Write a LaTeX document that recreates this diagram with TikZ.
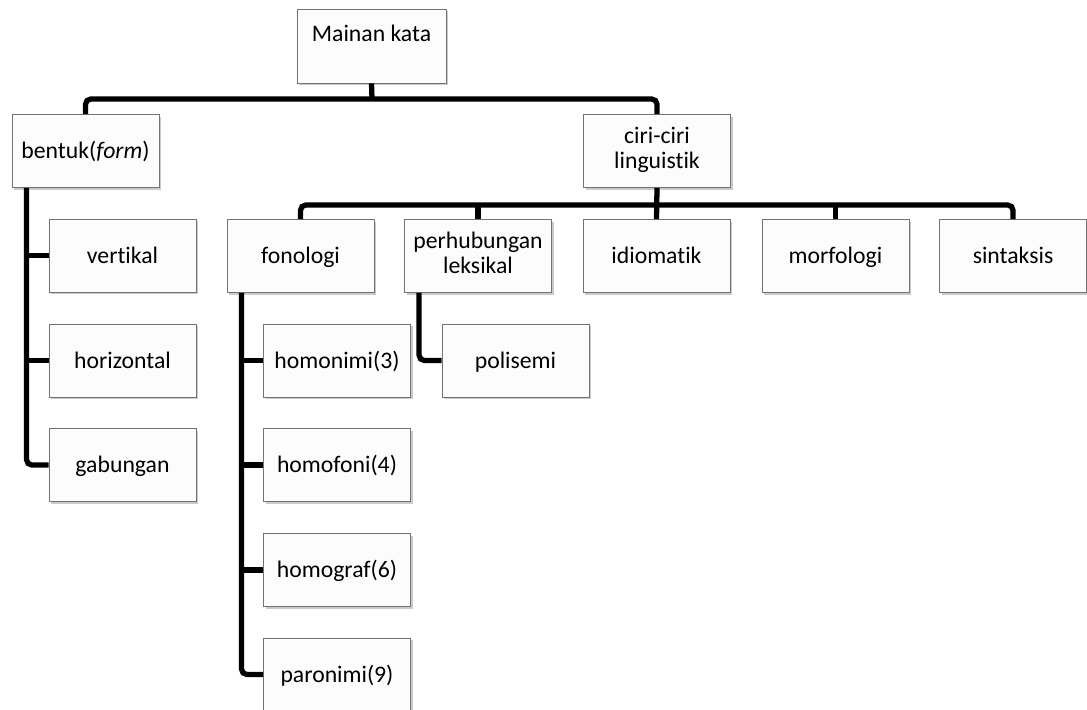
\documentclass[tikz,border=0pt]{standalone}
\usepackage{fontspec}
\setmainfont{Carlito}[Ligatures=NoCommon]
\usetikzlibrary{positioning,calc,shadows}
\newcommand{\boxstrut}{\rule[-4pt]{0pt}{17pt}}
\tikzset{
  % --- boxes -----------------------------------------------------------
  box/.style   ={draw=black!55, line width=0.5pt, fill=black!1, align=center,
                 minimum width=2.94cm, minimum height=1.46cm, inner sep=2pt,
                 font=\fontsize{13.5}{14.2}\selectfont, text=black,
                 execute at begin node=\boxstrut, execute at end node=\boxstrut,
                 drop shadow={shadow xshift=1.3pt, shadow yshift=-1.3pt,
                              opacity=0.35, fill=black!60}},
  topbox/.style={box, minimum width=2.98cm, minimum height=1.48cm,
                 text height=12.5pt, text depth=0.62cm},   % text sits at the top
  % --- connectors ------------------------------------------------------
  conn/.style  ={line width=3pt, draw=black, rounded corners=3pt},
}

\begin{document}
\begin{tikzpicture}[x=0.02cm, y=-0.02cm]
  \useasboundingbox (0,0) rectangle (1087,709);

  % ============================= root =============================
  \node[topbox] (main)   at (371.5,46) {Mainan kata};

  % ============================= level 1 =============================
  \node[box] (bentuk) at (85.5,151) {bentuk(\textit{form})};
  \node[box] (ciri)   at (657,151)  {ciri-ciri\\linguistik};

  % ----- bentuk: children -----
  \node[box] (vert) at (122.5,255.5) {vertikal};
  \node[box] (hori) at (122.5,360.5) {horizontal};
  \node[box] (gab)  at (122.5,465)   {gabungan};

  % ============================= level 2 (ciri-ciri) =============================
  \node[box] (fono)  at (300.5,256) {fonologi};
  \node[box] (perh)  at (478,256)   {perhubungan\\leksikal};
  \node[box] (idiom) at (656.5,256) {idiomatik};
  \node[box] (morf)  at (835.5,256) {morfologi};
  \node[box] (sint)  at (1013,256)  {sintaksis};

  % ----- fonologi / perhubungan: children -----
  \node[box] (homon) at (337,360.5) {homonimi(3)};
  \node[box] (homof) at (337,465)   {homofoni(4)};
  \node[box] (homog) at (337,570)   {homograf(6)};
  \node[box] (paron) at (337,674.5) {paronimi(9)};
  \node[box] (poli)  at (515.5,360.5) {polisemi};

  % ============================= edges =============================
  \coordinate (bar1) at (372,99);
  \coordinate (bar2) at (657,205);
  \coordinate (sp1)  at ($(bentuk.south west)+(15,0)$);
  \coordinate (sp2)  at ($(fono.south west)+(15,0)$);
  \coordinate (sp3)  at ($(perh.south west)+(15,0)$);

  % root -> level 1
  \draw[conn] (main.south) -- (bar1);
  \draw[conn] (bentuk.north) |- (bar1) -| (ciri.north);
  % ciri-ciri -> level 2
  \draw[conn] (ciri.south) -- (idiom.north);
  \draw[conn] (fono.north) |- (bar2) -| (sint.north);
  \draw[conn] (perh.north) -- (perh.north |- bar2);
  \draw[conn] (morf.north) -- (morf.north |- bar2);
  % bentuk -> vertikal, horizontal, gabungan
  \draw[conn] (sp1) |- (gab.west);
  \draw[conn] (vert.west) -- (vert.west -| sp1);
  \draw[conn] (hori.west) -- (hori.west -| sp1);
  % fonologi -> homonimi ... paronimi
  \draw[conn] (sp2) |- (paron.west);
  \draw[conn] (homon.west) -- (homon.west -| sp2);
  \draw[conn] (homof.west) -- (homof.west -| sp2);
  \draw[conn] (homog.west) -- (homog.west -| sp2);
  % perhubungan leksikal -> polisemi
  \draw[conn] (sp3) |- (poli.west);

\end{tikzpicture}
\end{document}
